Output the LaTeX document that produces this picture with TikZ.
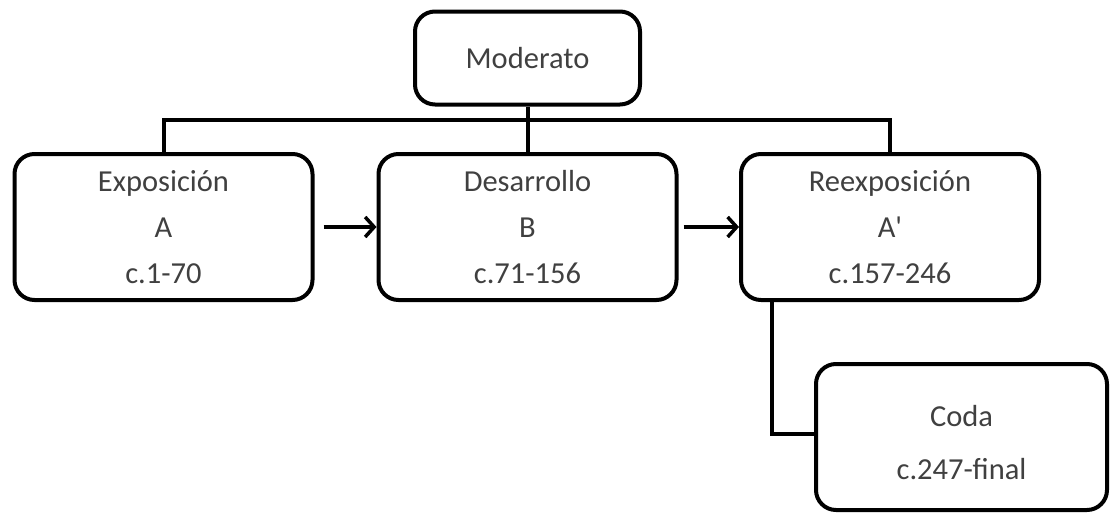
\documentclass[tikz,border=0pt]{standalone}
\usepackage{fontspec}
\setmainfont{Carlito}[Ligatures=TeXOff]
\usetikzlibrary{arrows.meta}
\definecolor{txt}{HTML}{404040}
\tikzset{
  part/.style={draw=black, line width=4pt, rounded corners=20pt, align=center,
    text=txt, font=\fontsize{30.5}{46}\selectfont, minimum width=298pt, minimum height=146pt},
  link/.style={draw=black, line width=4pt},
  flow/.style={draw=black, line width=3.5pt, -{Straight Barb[length=9pt,width=20pt,line width=3.5pt]}}
}
\begin{document}
\begin{tikzpicture}[x=1pt,y=-1pt]
\useasboundingbox (0,0) rectangle (1112,514);
\node[part, minimum width=225pt, minimum height=93pt] (mod) at (527.5,58) {Moderato};
\node[part] (exp) at (163.5,227) {Exposición\\A\\c.1-70};
\node[part] (des) at (527.5,227) {Desarrollo\\B\\c.71-156};
\node[part] (rex) at (890,227) {Reexposición\\A'\\c.157-246};
\node[part, minimum width=291pt, minimum height=146pt, font=\fontsize{30.5}{53}\selectfont] (coda) at (961.5,437) {\rule{0pt}{32pt}Coda\\c.247-final};
\coordinate (bus) at (527.5,120);
\coordinate (tap) at (772,0);
% tree connections from the title box
\draw[link] (exp.north) |- (bus) -| (rex.north);
\draw[link] (mod.south) -- (des.north);
\draw[link] (rex.south -| tap) |- ([yshift=3pt]coda.west);
% sequence arrows
\draw[flow] ([xshift=9pt]exp.east) -- (des.west);
\draw[flow] ([xshift=5pt]des.east) -- (rex.west);
\end{tikzpicture}
\end{document}
